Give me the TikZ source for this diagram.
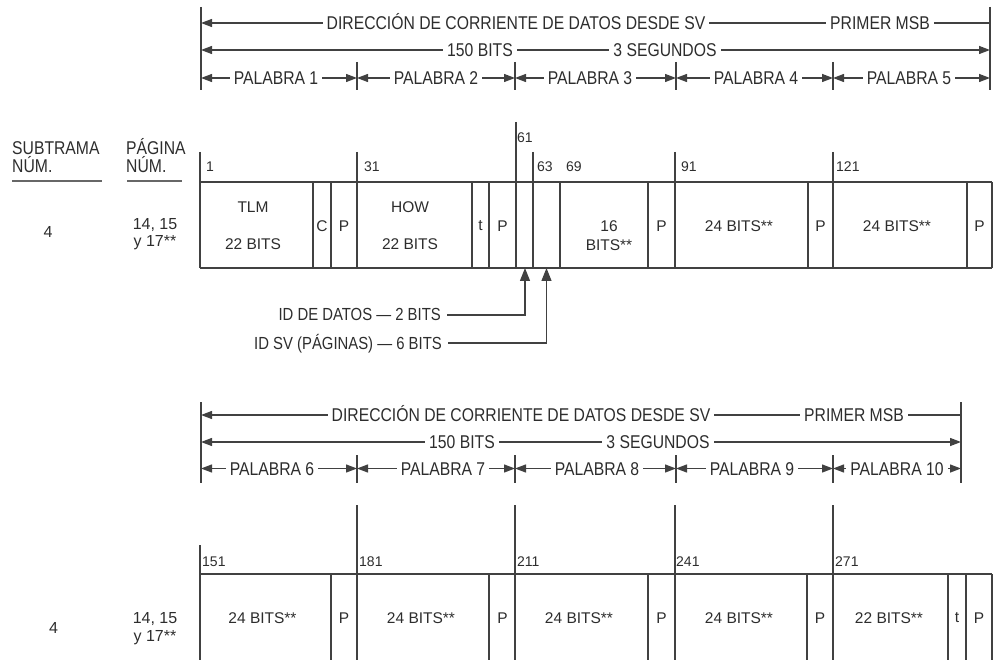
\documentclass[tikz,border=0pt]{standalone}
\usepackage{fontspec}
\setmainfont{Liberation Sans}
\newfontfamily\narrowsf[FakeStretch=0.85]{Liberation Sans}
\usetikzlibrary{arrows.meta}
\definecolor{inkgray}{RGB}{45,45,45}
\definecolor{rulegray}{RGB}{65,65,65}
\tikzset{
  hdrtext/.style={font=\narrowsf\fontsize{18.5}{20}\selectfont,text=inkgray,fill=white,inner xsep=4pt,inner ysep=1pt,anchor=base},
  celltext/.style={font=\fontsize{15.5}{19}\selectfont,text=inkgray,align=center,inner sep=0pt},
  bitnum/.style={font=\fontsize{14}{16}\selectfont,text=inkgray,anchor=base west,inner sep=0pt},
  pagetext/.style={font=\fontsize{16}{17.5}\selectfont,text=inkgray,align=center,inner sep=0pt},
  collabel/.style={font=\narrowsf\fontsize{18.5}{18}\selectfont,text=inkgray,align=left,anchor=west,inner sep=0pt},
  idlabel/.style={font=\narrowsf\fontsize{17.5}{20}\selectfont,text=inkgray,anchor=base east,inner sep=0pt},
  tblline/.style={line width=1.5pt,draw=rulegray},
  endline/.style={line width=1.7pt,draw=rulegray},
  tickline/.style={line width=1.3pt,draw=rulegray},
  ulrule/.style={line width=2pt,draw=rulegray!80},
  leftarr/.style={line width=1.3pt,draw=rulegray,{Triangle[length=11pt,width=8pt]}-},
  dblarr/.style={line width=1.3pt,draw=rulegray,{Triangle[length=11pt,width=8pt]}-{Triangle[length=11pt,width=8pt]}},
  idarr/.style={line width=1.3pt,draw=rulegray,-{Triangle[length=13pt,width=10pt]}}
}

\begin{document}
\begin{tikzpicture}[x=1pt,y=-1pt]
  \useasboundingbox (0,0) rectangle (993,660);

  %% ── UPPER HEADER (words 1-5) ─────────────────────────────
  \draw[endline] (201,7) -- (201,90);
  \draw[endline] (990,7) -- (990,90);
  \coordinate (dirAL) at (201,23);
  \coordinate (dirAR) at (990,23);
  \draw[leftarr] (dirAL) -- (dirAR);
  \node[hdrtext] (dirA) at (516,29.8) {DIRECCIÓN DE CORRIENTE DE DATOS DESDE SV};
  \node[hdrtext] (msbA) at (880,29.8) {PRIMER MSB};

  \coordinate (bitsAL) at (201,50);
  \coordinate (bitsAR) at (990,50);
  \draw[dblarr] (bitsAL) -- (bitsAR);
  \node[hdrtext] (bitsA) at (480,56.5) {150 BITS};
  \node[hdrtext] (secsA) at (665,56.5) {3 SEGUNDOS};

  \foreach \x in {357,515,676,833}
    \draw[tickline] (\x,62) -- (\x,90);
  \foreach \xa/\xb/\xt/\n in {201/357/276/1,357/515/436/2,515/676/590/3,676/833/756/4,833/990/909/5} {
    \coordinate (word\n L) at (\xa,78);
    \coordinate (word\n R) at (\xb,78);
    \draw[dblarr] (word\n L) -- (word\n R);
    \node[hdrtext] (word\n) at (\xt,84.6) {PALABRA \n};
  }

  %% ── UPPER TABLE ──────────────────────────────────────────
  \node[collabel] (subtr) at (12,157.3) {SUBTRAMA\\NÚM.};
  \node[collabel] (pagina) at (126,155.4) {PÁGINA\\NÚM.};
  \draw[ulrule] (12,181) -- (102,181);
  \draw[ulrule] (127,181) -- (182,181);

  \node[pagetext] (subA) at (48,232) {4};
  \node[pagetext] (pagA) at (155,234) {14, 15\\y 17**};

  \draw[tblline] (200,182) -- (992,182);
  \draw[tblline] (200,268) -- (992,268);
  \foreach \x in {313,331,472,489,560,648,808,967,992}
    \draw[tblline] (\x,182) -- (\x,268);
  \foreach \x in {200,357,533,675,833}
    \draw[tblline] (\x,152) -- (\x,268);
  \draw[tblline] (516,122) -- (516,268);

  \foreach \x/\y/\t in {206/172/1,364/172/31,517/143/61,537/172/63,566/172/69,681/172/91,836/172/121}
    \node[bitnum] (bit\t) at (\x,\y) {\t};

  \node[celltext] (tlm) at (253,225.6) {TLM\\[18pt]22 BITS};
  \node[celltext] (parC) at (322,226) {C};
  \node[celltext] (parP1) at (344,226) {P};
  \node[celltext] (how) at (410,226) {HOW\\[18pt]22 BITS};
  \node[celltext] (tbit1) at (480.5,226) {t};
  \node[celltext] (parP2) at (502.5,226) {P};
  \node[celltext] (sixteen) at (609,235.5) {16\\BITS**};
  \node[celltext] (parP3) at (661.5,226) {P};
  \node[celltext] (wordA4) at (739,226) {24 BITS**};
  \node[celltext] (parP4) at (820.5,226) {P};
  \node[celltext] (wordA5) at (897,226) {24 BITS**};
  \node[celltext] (parP5) at (979.5,226) {P};

  %% ID fields below the table
  \coordinate (f61) at (525,268);
  \coordinate (f63) at (546.5,268);
  \node[idlabel] (iddat) at (441,320) {ID DE DATOS — 2 BITS};
  \node[idlabel] (idsv) at (442,349) {ID SV (PÁGINAS) — 6 BITS};
  \draw[idarr] ([xshift=6pt,yshift=5pt]iddat.base east) -| (f61);
  \draw[idarr] ([xshift=6pt,yshift=6pt]idsv.base east) -| (f63);

  %% ── LOWER HEADER (words 6-10) ────────────────────────────
  \draw[endline] (201,402) -- (201,483);
  \draw[endline] (961,402) -- (961,483);
  \coordinate (dirBL) at (201,415);
  \coordinate (dirBR) at (961,415);
  \draw[leftarr] (dirBL) -- (dirBR);
  \node[hdrtext] (dirB) at (521,421.8) {DIRECCIÓN DE CORRIENTE DE DATOS DESDE SV};
  \node[hdrtext] (msbB) at (854,421.8) {PRIMER MSB};

  \coordinate (bitsBL) at (201,442);
  \coordinate (bitsBR) at (961,442);
  \draw[dblarr] (bitsBL) -- (bitsBR);
  \node[hdrtext] (bitsB) at (462,448.8) {150 BITS};
  \node[hdrtext] (secsB) at (658,448.8) {3 SEGUNDOS};

  \foreach \x in {357,515,676,833}
    \draw[tickline] (\x,455) -- (\x,483);
  \foreach \xa/\xb/\xt/\n in {201/357/272/6,357/515/443/7,515/676/597/8,676/833/752/9,833/961/897/10} {
    \coordinate (word\n L) at (\xa,468.5);
    \coordinate (word\n R) at (\xb,468.5);
    \draw[dblarr] (word\n L) -- (word\n R);
    \node[hdrtext] (word\n) at (\xt,475.1) {PALABRA \n};
  }

  %% ── LOWER TABLE ──────────────────────────────────────────
  \node[pagetext] (subB) at (53.5,628) {4};
  \node[pagetext] (pagB) at (155,628.5) {14, 15\\y 17**};

  \draw[tblline] (200,574) -- (992,574);
  \draw[tblline] (200,545) -- (200,660);
  \foreach \x in {357,515,675,833}
    \draw[tblline] (\x,505) -- (\x,660);
  \foreach \x in {331,489,648,807,948,966,992}
    \draw[tblline] (\x,574) -- (\x,660);

  \foreach \x/\t in {202/151,359/181,517/211,676/241,835/271}
    \node[bitnum] (bit\t) at (\x,566) {\t};

  \foreach \x/\n in {262.5/6,421/7,579/8,739/9}
    \node[celltext] (wordB\n) at (\x,618) {24 BITS**};
  \node[celltext] (wordB10) at (889,618) {22 BITS**};
  \foreach \x/\n in {344/6,502.5/7,661.5/8,820/9,979/10}
    \node[celltext] (parQ\n) at (\x,618) {P};
  \node[celltext] (tbit2) at (957,618) {t};

\end{tikzpicture}
\end{document}
